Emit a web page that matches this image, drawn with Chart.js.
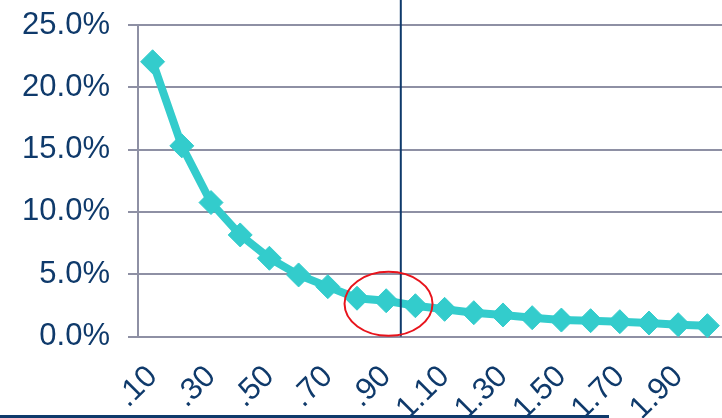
<!DOCTYPE html>
<html>
<head>
<meta charset="utf-8">
<script src="https://cdn.jsdelivr.net/npm/chart.js@4/dist/chart.umd.min.js"></script>
<style>
  html, body { margin: 0; padding: 0; background: #ffffff; }
  #wrap { position: relative; width: 722px; height: 418px; }
  canvas { display: block; }
</style>
</head>
<body>
<div id="wrap"><canvas id="chart" width="722" height="418"></canvas></div>
<script>
// Threshold categories along the horizontal axis
const categories = ['.10', '.20', '.30', '.40', '.50', '.60', '.70', '.80', '.90', '1.00',
                    '1.10', '1.20', '1.30', '1.40', '1.50', '1.60', '1.70', '1.80', '1.90', '2.00'];
// Percentage value at each threshold
const shareValues = [22.05, 15.3, 10.75, 8.15, 6.28, 4.94, 4.0, 3.07, 2.87, 2.47,
                     2.18, 1.91, 1.73, 1.51, 1.32, 1.27, 1.19, 1.08, 0.95, 0.87];
// Value-axis range and step
const yMin = 0;
const yMax = 25;
const yStep = 5;
// Marker line position (category index) and highlighted point (index, value)
const markerIndex = 8.5;
const highlightIndex = 8.08;
const highlightValue = 2.62;

const NAVY = '#0f3a6b';
const GRID = '#8e90a4';
const TEAL = '#33cccc';
const FONT = 'Arial, "Liberation Sans", sans-serif';

const overlay = {
  id: 'overlay',
  afterDatasetsDraw(chart) {
    const { ctx, scales: { x, y } } = chart;
    ctx.save();
    // vertical marker line
    const mx = x.getPixelForValue(markerIndex);
    ctx.strokeStyle = NAVY;
    ctx.lineWidth = 2;
    ctx.beginPath();
    ctx.moveTo(mx, 0);
    ctx.lineTo(mx, y.getPixelForValue(yMin));
    ctx.stroke();
    // red ellipse around the highlighted region
    const cx = x.getPixelForValue(highlightIndex);
    const cy = y.getPixelForValue(highlightValue);
    ctx.strokeStyle = '#e8141c';
    ctx.lineWidth = 2;
    ctx.beginPath();
    ctx.ellipse(cx, cy, 44, 32, 0, 0, Math.PI * 2);
    ctx.stroke();
    // bottom rule
    ctx.fillStyle = NAVY;
    ctx.fillRect(0, 415, 609, 3);
    ctx.restore();
  }
};

new Chart(document.getElementById('chart'), {
  type: 'line',
  data: {
    labels: categories,
    datasets: [{
      data: shareValues,
      borderColor: TEAL,
      backgroundColor: TEAL,
      borderWidth: 8,
      pointStyle: 'rectRot',
      pointRadius: 12,
      pointBorderWidth: 1,
      pointBorderColor: TEAL,
      pointBackgroundColor: TEAL,
      tension: 0,
      fill: false,
      clip: false
    }]
  },
  options: {
    responsive: false,
    animation: false,
    devicePixelRatio: 1,
    layout: { autoPadding: false, padding: { top: 25, right: 0, left: 0, bottom: 0 } },
    plugins: { legend: { display: false }, tooltip: { enabled: false } },
    scales: {
      x: {
        offset: true,
        grid: { display: false, drawTicks: false },
        border: { display: false },
        ticks: {
          autoSkip: false,
          minRotation: 45,
          maxRotation: 45,
          padding: 22,
          color: NAVY,
          font: { family: FONT, size: 31 },
          callback: function (value, index) {
            return index % 2 === 0 ? categories[index] : '';
          }
        },
        afterFit(scale) {
          scale.height = 418 - 336.5;
          scale.paddingLeft = 0;
          scale.paddingRight = 0;
        }
      },
      y: {
        min: yMin,
        max: yMax,
        grid: { color: GRID, lineWidth: 2, tickLength: 10, drawTicks: true },
        border: { display: true, color: GRID, width: 2 },
        ticks: {
          stepSize: yStep,
          padding: 18,
          color: NAVY,
          font: { family: FONT, size: 31 },
          callback: function (value) { return value.toFixed(1) + '%'; }
        },
        afterFit(scale) {
          scale.width = 138;
          scale.paddingTop = 0;
          scale.paddingBottom = 0;
        }
      }
    }
  },
  plugins: [overlay]
});
</script>
</body>
</html>
